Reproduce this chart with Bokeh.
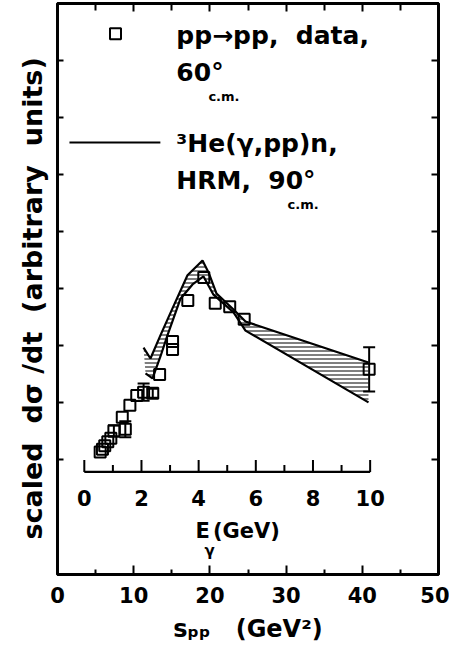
from bokeh.plotting import figure
from bokeh.models import (LinearAxis, Range1d, FixedTicker, Label, Whisker,
                          ColumnDataSource, TeeHead)
from bokeh.core.properties import value
from bokeh.embed import file_html
from bokeh.resources import INLINE

# ---------------- data ----------------
# pp -> pp data (scaled), x = s_pp (GeV^2)
s_data = [5.6, 5.9, 6.2, 6.6, 7.0, 7.4, 8.5, 8.9, 9.5, 10.4, 11.3, 12.5, 13.4,
          15.1, 15.1, 17.1, 19.2, 20.7, 22.6, 24.5, 40.9]
y_data = [0.13, 0.18, 0.24, 0.31, 0.37, 0.50, 0.74, 0.53, 0.95, 1.12, 1.18, 1.16, 1.49,
          2.07, 1.93, 2.79, 3.19, 2.74, 2.68, 2.46, 1.58]
y_err = [0, 0, 0, 0, 0, 0.10, 0, 0.14, 0, 0, 0.15, 0.08, 0,
         0, 0, 0, 0, 0, 0, 0, 0.39]

# HRM 3He(gamma,pp)n band: upper and lower edges
s_upper = [11.29, 12.20, 13.52, 15.09, 17.06, 19.03, 19.82, 20.87, 23.10, 24.67, 40.81]
y_upper = [1.96, 1.77, 2.18, 2.65, 3.23, 3.49, 3.28, 2.91, 2.63, 2.42, 1.70]
s_lower = [11.55, 12.47, 13.52, 14.44, 16.14, 17.72, 19.16, 20.47, 23.10, 24.67, 40.81]
y_lower = [1.51, 1.42, 1.81, 2.18, 2.82, 3.07, 3.21, 2.89, 2.58, 2.26, 1.00]

s_ticks = [0, 10, 20, 30, 40, 50]
s_minor = [5, 15, 25, 35, 45]
y_ticks = [0, 1, 2, 3, 4, 5, 6, 7, 8]
E_ticks = [0, 1, 2, 3, 4, 5, 6, 7, 8, 9, 10]
E_labels = ["0", "2", "4", "6", "8", "10"]
MD = 1.8756  # deuteron mass, GeV: s = MD^2 + 2 MD E


def s_of_E(E):
    return MD ** 2 + 2 * MD * E


FONT = "DejaVu Sans"
NB = "\u00a0"

p = figure(width=449, height=657, x_range=Range1d(0, 50), y_range=Range1d(-2.02, 8),
           output_backend="svg", toolbar_location=None,
           min_border_left=57, min_border_right=11, min_border_top=3, min_border_bottom=83)
p.background_fill_color = "white"
p.border_fill_color = "white"
p.xgrid.visible = False
p.ygrid.visible = False
p.outline_line_color = "black"
p.outline_line_width = 2.8

# bottom axis
xa = p.xaxis[0]
xa.ticker = FixedTicker(ticks=s_ticks, minor_ticks=s_minor)
xa.major_tick_in = 9
xa.major_tick_out = 0
xa.minor_tick_in = 5
xa.minor_tick_out = 0
xa.major_tick_line_width = 2
xa.minor_tick_line_width = 2
xa.axis_line_width = 2.8
xa.major_label_text_font = FONT
xa.major_label_text_font_style = "bold"
xa.major_label_text_font_size = "21px"
xa.major_label_text_color = "black"
xa.major_label_standoff = 12
xa.axis_label = "s\u209a\u209a" + NB * 3 + "(GeV\u00b2)"
xa.axis_label_text_font = FONT
xa.axis_label_text_font_style = "bold"
xa.axis_label_text_font_size = "24px"
xa.axis_label_text_color = "black"
xa.axis_label_standoff = 9

# left axis
ya = p.yaxis[0]
ya.ticker = FixedTicker(ticks=y_ticks, minor_ticks=[])
ya.major_tick_in = 6
ya.major_tick_out = 0
ya.major_tick_line_width = 2
ya.axis_line_width = 2.8
ya.major_label_text_font_size = "0px"
ya.major_label_standoff = 0
ya.axis_label = ("scaled" + NB * 2 + "d\u03c3" + NB + "/dt" + NB * 2 +
                 "(arbitrary" + NB * 2 + "units)" + NB * 2)
ya.axis_label_text_font = FONT
ya.axis_label_text_font_style = "bold"
ya.axis_label_text_font_size = "27px"
ya.axis_label_text_color = "black"
ya.axis_label_standoff = 10

# top axis
ta = LinearAxis(ticker=FixedTicker(ticks=s_ticks, minor_ticks=s_minor))
ta.major_tick_in = 8
ta.major_tick_out = 0
ta.minor_tick_in = 7
ta.minor_tick_out = 0
ta.major_tick_line_width = 2
ta.minor_tick_line_width = 2
ta.axis_line_width = 2.8
ta.major_label_text_font_size = "0px"
ta.major_label_standoff = 0
p.add_layout(ta, "above")

# right axis
ra = LinearAxis(ticker=FixedTicker(ticks=y_ticks, minor_ticks=[]))
ra.major_tick_in = 7
ra.major_tick_out = 0
ra.major_tick_line_width = 2
ra.axis_line_width = 2.8
ra.major_label_text_font_size = "0px"
ra.major_label_standoff = 0
p.add_layout(ra, "right")

# ---------------- HRM band ----------------
band_x = s_upper + s_lower[::-1]
band_y = y_upper + y_lower[::-1]
p.patch(band_x, band_y, fill_alpha=0, line_alpha=0,
        hatch_pattern="horizontal_line", hatch_color="black", hatch_scale=4,
        hatch_weight=1)
p.line(s_upper, y_upper, line_color="black", line_width=2.2)
p.line(s_lower, y_lower, line_color="black", line_width=2.2)

# ---------------- data points ----------------
err_idx = [i for i, e in enumerate(y_err) if e > 0]
esrc = ColumnDataSource(dict(
    x=[s_data[i] for i in err_idx],
    lo=[y_data[i] - y_err[i] for i in err_idx],
    hi=[y_data[i] + y_err[i] for i in err_idx]))
w = Whisker(base="x", lower="lo", upper="hi", source=esrc, dimension="height",
            line_color="black", line_width=2,
            upper_head=TeeHead(size=12, line_width=2, line_color="black"),
            lower_head=TeeHead(size=12, line_width=2, line_color="black"))
p.add_layout(w)
p.scatter(s_data, y_data, marker="square", size=11, fill_alpha=0,
          line_color="black", line_width=2)

# ---------------- inner E_gamma axis ----------------
yE = -0.22
E_s = [s_of_E(e) for e in E_ticks]
p.line([E_s[0], E_s[-1]], [yE, yE], line_color="black", line_width=2.2)
tick_top = [yE + (12 / 57 if e % 2 == 0 else 7 / 57) for e in E_ticks]
p.segment(x0=E_s, y0=[yE] * len(E_s), x1=E_s, y1=tick_top,
          line_color="black", line_width=2)
E_lab_s = [s_of_E(e) for e in range(0, 11, 2)]
p.text(x=E_lab_s, y=[-0.68] * len(E_lab_s), text=E_labels,
       text_font=value(FONT), text_font_style="bold", text_font_size="21px",
       text_align="center", text_baseline="middle", text_color="black")


def lab(x, y, t, size="25px", style="bold", baseline="middle"):
    p.add_layout(Label(x=x, y=y, text=t, text_font=FONT, text_font_style=style,
                       text_font_size=size, text_color="black",
                       text_baseline=baseline, text_align="left"))


# E_gamma title
lab(18.1, -1.25, "E", "21px")
lab(19.3, -1.6, "\u03b3", "15px")
lab(20.4, -1.25, "(GeV)", "21px")

# ---------------- legend ----------------
p.scatter([7.61], [7.47], marker="square", size=11, fill_alpha=0,
          line_color="black", line_width=2)
p.line([1.57, 13.5], [5.56, 5.56], line_color="black", line_width=2)
lab(15.6, 7.44, "pp\u2192pp," + NB * 2 + "data,")
lab(15.6, 6.79, "60\u00b0")
lab(19.8, 6.37, "c.m.", "13px")
lab(15.6, 5.54, "\u00b3He(\u03b3,pp)n,")
lab(15.6, 4.89, "HRM," + NB * 2 + "90\u00b0")
lab(30.2, 4.47, "c.m.", "13px")

open("out.html", "w").write(file_html(p, INLINE))
